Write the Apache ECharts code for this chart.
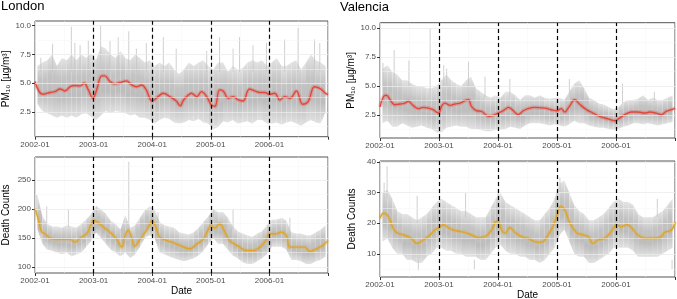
<!DOCTYPE html>
<html>
<head>
<meta charset="utf-8">
<script src="https://cdn.jsdelivr.net/npm/echarts@6/dist/echarts.min.js"></script>
<style>
  html, body { margin: 0; padding: 0; background: #fff; }
  #chart { width: 677px; height: 299px; }
</style>
</head>
<body>
<div id="chart"></div>
<script>
// month centres 2002-01 .. 2006-12 (decimal years)
var monthPos = [];
for (var m = 0; m < 60; m++) monthPos.push(2002 + (m + 0.5) / 12);

var yearLines = [2003, 2004, 2005, 2006];

// ---- London PM10 ----
var lonPmLo = [3.2,2.6,2.4,2.2,2.0,2.2,2.0,2.2,2.0,2.3,2.4,2.1, 1.8,2.2,2.6,2.4,2.6,2.5,2.4,2.2,2.3,2.0,2.0,1.8,
  1.5,1.8,2.0,1.9,1.6,1.5,1.6,1.8,1.7,1.9,1.6,1.5, 1.0,1.2,1.7,1.6,1.8,1.5,1.6,1.7,1.5,1.8,1.8,1.5,
  1.5,1.6,1.4,1.6,1.7,1.5,1.3,1.6,1.8,1.6,1.5,2.5];
var lonPmHi = [6.5,6.8,7.0,7.5,6.5,7.2,7.0,7.5,7.0,7.5,7.2,7.6, 7.0,8.2,8.0,7.5,7.2,7.8,7.2,7.0,7.5,7.2,6.8,7.0,
  6.5,6.8,6.5,6.8,6.2,5.8,6.2,6.8,6.5,6.8,7.0,6.5, 6.2,6.8,6.8,6.0,6.5,6.2,6.3,6.8,7.0,6.8,7.0,6.5,
  6.8,7.2,6.5,6.5,6.8,7.0,6.2,6.8,7.5,7.0,6.8,6.5];
var lonPmSpikes = [[2002.10,6,7.2],[2002.30,6,8.4],[2002.62,6,9.9],[2002.68,6,8.5],[2002.77,6,8.3],[2002.91,6,8.7],
  [2003.12,6,10.0],[2003.28,6,8.7],[2003.42,6,9.0],[2003.60,6,9.5],[2003.73,6,8.0],[2003.90,6,8.5],
  [2004.19,6,9.0],[2004.41,6,8.0],[2004.93,6,7.8],[2005.15,6,9.0],[2005.38,6,8.0],[2005.49,6,9.0],
  [2005.72,6,8.3],[2005.95,6,8.5],[2006.26,6,8.8],[2006.49,6,9.8],[2006.77,6,8.8],[2006.86,6,8.5]];
var lonPmTrend = [[2002.00,5.15],[2002.13,4.04],[2002.26,4.2],[2002.34,4.27],[2002.43,4.5],[2002.51,4.33],
  [2002.60,4.7],[2002.68,4.8],[2002.77,4.77],[2002.84,5.0],[2002.91,4.42],[2002.99,3.7],[2003.05,4.4],
  [2003.14,5.64],[2003.19,5.64],[2003.28,5.15],[2003.36,4.94],[2003.45,5.06],[2003.56,5.2],[2003.65,4.85],
  [2003.73,4.7],[2003.82,4.85],[2003.90,4.4],[2004.00,3.46],[2004.10,3.84],[2004.19,4.13],[2004.30,3.84],
  [2004.41,3.46],[2004.48,3.05],[2004.53,3.5],[2004.59,3.84],[2004.67,4.13],[2004.76,3.84],[2004.84,4.27],
  [2004.93,3.84],[2005.01,3.1],[2005.07,3.0],[2005.15,4.42],[2005.21,4.33],[2005.30,3.7],[2005.38,3.84],
  [2005.47,3.55],[2005.55,3.46],[2005.66,4.5],[2005.75,4.33],[2005.84,4.2],[2005.92,4.2],[2006.00,4.04],
  [2006.09,4.13],[2006.18,3.55],[2006.26,3.84],[2006.35,3.7],[2006.46,4.33],[2006.57,3.17],[2006.66,3.4],
  [2006.77,4.7],[2006.86,4.56],[2006.94,4.2],[2007.00,4.0]];

// ---- London deaths ----
var lonDeLo = [165,140,130,128,125,122,125,118,122,125,135,145, 160,150,140,130,125,118,125,115,122,135,150,155,
  150,125,122,118,115,112,110,112,115,120,128,140, 150,140,140,130,120,115,108,105,105,110,115,122,
  135,135,135,130,112,112,110,105,105,110,112,118];
var lonDeHi = [225,188,175,170,170,168,172,170,168,175,182,192, 205,200,192,180,175,165,190,168,172,185,198,205,
  200,178,172,170,168,160,158,156,160,168,178,188, 200,195,195,185,170,162,158,155,152,158,162,172,
  182,182,185,180,160,158,158,155,155,160,165,172];
var lonDeSpikes = [[2002.03,190,225],[2002.20,175,205],[2002.57,170,200],[2003.05,190,205],[2003.60,170,282],
  [2004.10,175,195],[2005.05,185,200],[2005.38,165,200],[2006.35,165,185]];
var lonDeTrend = [[2002.00,201],[2002.06,181],[2002.11,161.5],[2002.17,157.5],[2002.26,150],[2002.37,147.7],
  [2002.48,147.7],[2002.60,147.7],[2002.68,143],[2002.77,150],[2002.88,157.5],[2002.94,169],[2003.00,180.6],
  [2003.08,176.5],[2003.19,167.3],[2003.31,157.5],[2003.39,148.8],[2003.48,134.4],[2003.53,151.7],[2003.59,163.3],
  [2003.65,150],[2003.70,136],[2003.79,147.7],[2003.88,160.4],[2003.95,172],[2004.00,180.6],[2004.06,169],
  [2004.13,151.7],[2004.24,146],[2004.36,142],[2004.50,136],[2004.64,131.5],[2004.76,140],[2004.87,147.7],
  [2004.95,163.3],[2005.00,172],[2005.07,167.3],[2005.15,174.8],[2005.24,160.4],[2005.32,146],[2005.47,136],
  [2005.61,128.6],[2005.72,128.6],[2005.84,134.4],[2005.95,147.7],[2006.00,157.5],[2006.12,157.5],[2006.20,160.4],
  [2006.29,154.6],[2006.35,134.4],[2006.52,134.4],[2006.60,134.4],[2006.69,127],[2006.80,131.5],[2006.91,137.3],
  [2007.00,146]];

// ---- Valencia PM10 ----
var valPmLo = [1.8,2.0,1.5,1.5,1.8,1.6,1.4,1.5,1.6,1.4,1.3,1.0, 1.0,1.4,1.5,1.6,1.5,1.5,1.3,1.3,1.2,1.1,1.1,1.2,
  1.2,1.3,1.5,1.4,1.3,1.6,1.8,1.8,1.8,1.7,1.6,1.7, 1.6,1.5,1.7,2.0,1.8,1.8,1.6,1.5,1.4,1.4,1.3,1.2,
  1.3,1.5,1.6,1.8,1.8,1.7,1.8,1.7,1.6,1.7,1.8,1.9];
var valPmHi = [6.5,6.8,6.2,6.0,5.5,5.5,5.2,5.0,5.0,4.8,4.8,5.0, 5.5,6.0,5.5,5.2,5.0,5.5,5.8,4.8,4.5,4.2,4.0,4.2,
  4.0,4.5,4.5,4.2,3.8,4.2,4.2,4.0,4.2,4.0,3.9,4.0, 4.0,3.8,4.5,5.2,5.5,4.8,4.0,3.8,3.5,3.4,3.2,3.0,
  3.2,3.6,3.8,3.8,3.9,4.2,3.8,4.0,3.8,3.8,4.0,4.2];
var valPmSpikes = [[2002.05,5,7.0],[2002.24,5,8.1],[2002.49,5,7.2],[2002.85,4,10.0],[2003.08,5,6.8],[2003.13,5,6.5],
  [2003.50,5,7.1],[2003.78,4,5.8],[2004.20,4,5.6],[2005.21,4,5.6],[2006.11,3.5,5.2],[2006.65,3.5,4.5]];
var valPmTrend = [[2002.00,3.2],[2002.06,4.1],[2002.11,4.2],[2002.17,3.82],[2002.25,3.39],[2002.34,3.45],
  [2002.42,3.53],[2002.48,3.68],[2002.56,3.33],[2002.65,3.05],[2002.73,3.16],[2002.82,3.1],[2002.90,2.96],
  [2002.99,2.67],[2003.05,3.33],[2003.10,3.53],[2003.19,3.33],[2003.27,3.45],[2003.36,3.53],[2003.44,3.74],
  [2003.50,3.82],[2003.55,3.25],[2003.64,2.87],[2003.72,2.82],[2003.84,2.39],[2003.92,2.47],[2004.00,2.67],
  [2004.09,2.87],[2004.18,3.16],[2004.26,2.87],[2004.34,2.53],[2004.43,2.87],[2004.51,3.05],[2004.62,3.16],
  [2004.79,3.1],[2004.90,2.96],[2005.00,2.87],[2005.07,3.05],[2005.13,2.76],[2005.21,3.25],[2005.30,3.82],
  [2005.38,3.45],[2005.50,2.96],[2005.61,2.67],[2005.72,2.39],[2005.86,2.18],[2005.98,2.01],[2006.06,2.24],
  [2006.15,2.53],[2006.26,2.76],[2006.37,2.76],[2006.49,2.67],[2006.57,2.76],[2006.68,2.67],[2006.77,2.53],
  [2006.85,2.82],[2006.94,2.96],[2007.00,3.1]];

// ---- Valencia deaths ----
var valDeLo = [14,15,12,10,10,8,8,7,7,9,10,12, 12,11,11,10,10,9,9,9,8,8,10,12, 13,11,10,10,9,9,8,8,7,8,10,12,
  16,18,14,10,9,9,7,7,8,9,10,12, 12,12,12,11,9,9,9,9,9,10,11,12];
var valDeHi = [30,31,28,24,23,23,22,21,22,23,25,27, 28,27,26,25,24,24,23,22,22,22,25,28, 30,27,26,25,24,23,22,21,21,23,25,28,
  33,34,30,26,24,23,21,21,22,23,25,27, 28,27,27,26,23,22,22,22,23,24,26,28];
var valDeSpikes = [[2002.07,26,33.3],[2002.12,28,38.7],[2002.63,20,29],[2002.65,8,4.6],[2003.45,22,30],[2003.60,8,5],
  [2004.00,25,31],[2005.05,30,35],[2006.70,22,28],[2006.95,8,5]];
var valDeTrend = [[2002.00,21.6],[2002.06,23.3],[2002.11,23.0],[2002.17,21.1],[2002.23,18.1],[2002.31,16.7],
  [2002.40,16.2],[2002.48,15.6],[2002.56,14.5],[2002.62,13.4],[2002.68,13.8],[2002.76,14.9],[2002.85,16.2],
  [2002.93,17.8],[2003.02,18.9],[2003.07,19.5],[2003.16,18.6],[2003.24,17.8],[2003.36,17.3],[2003.44,17.0],
  [2003.55,16.2],[2003.67,15.3],[2003.78,15.6],[2003.89,17.8],[2003.96,20.5],[2004.00,20.8],[2004.06,17.8],
  [2004.12,16.7],[2004.20,18.6],[2004.29,17.0],[2004.40,15.6],[2004.51,15.1],[2004.56,14.5],[2004.68,13.8],
  [2004.76,14.0],[2004.85,16.2],[2004.93,18.9],[2005.00,22.7],[2005.06,25.5],[2005.13,24.4],[2005.21,20.5],
  [2005.33,17.0],[2005.44,16.2],[2005.53,15.6],[2005.61,13.4],[2005.69,14.5],[2005.81,15.1],[2005.92,17.3],
  [2006.01,19.5],[2006.09,18.9],[2006.18,19.5],[2006.26,18.6],[2006.37,16.2],[2006.49,15.1],[2006.66,15.1],
  [2006.77,15.6],[2006.82,17.0],[2006.94,17.8],[2007.00,20.5]];

var FONT = 'Liberation Sans, Arial, sans-serif';
var RED = '#e2473b', GOLD = '#dea529';

var panels = [
  { grid: { left: 35, top: 21, width: 293, height: 115.7 }, min: 0.36, max: 10.4,
    ticks: [2.5, 5, 7.5, 10], minor: [1.25, 3.75, 6.25, 8.75], dec: 1, name: 'PM₁₀ [µg/m³]', gap: 22,
    lo: lonPmLo, hi: lonPmHi, spikes: lonPmSpikes, trend: lonPmTrend, color: RED, date: false },
  { grid: { left: 35, top: 157, width: 293, height: 116 }, min: 89.6, max: 290.3,
    ticks: [100, 150, 200, 250], minor: [125, 175, 225, 275], dec: 0, name: 'Death Counts', gap: 24,
    lo: lonDeLo, hi: lonDeHi, spikes: lonDeSpikes, trend: lonDeTrend, color: GOLD, date: true },
  { grid: { left: 380, top: 22.7, width: 295, height: 115.3 }, min: 0.52, max: 10.46,
    ticks: [2.5, 5, 7.5, 10], minor: [1.25, 3.75, 6.25, 8.75], dec: 1, name: 'PM₁₀ [µg/m³]', gap: 22,
    lo: valPmLo, hi: valPmHi, spikes: valPmSpikes, trend: valPmTrend, color: RED, date: false },
  { grid: { left: 380, top: 161, width: 295, height: 116 }, min: 2.4, max: 40.4,
    ticks: [10, 20, 30, 40], minor: [5, 15, 25, 35], dec: 0, name: 'Death Counts', gap: 23,
    lo: valDeLo, hi: valDeHi, spikes: valDeSpikes, trend: valDeTrend, color: GOLD, date: true }
];

var grids = [], xAxes = [], yAxes = [], series = [];

panels.forEach(function (p, i) {
  grids.push(Object.assign({ show: true, borderColor: '#555', borderWidth: 1, backgroundColor: 'transparent',
    containLabel: false, outerBoundsMode: 'none' }, p.grid));

  var xa = {
    gridIndex: i, type: 'value', min: 2002, max: 2007, interval: 1,
    axisLine: { show: false, onZero: false },
    axisTick: { show: true, length: 3, lineStyle: { color: '#333' } },
    axisLabel: {
      fontSize: 8, color: '#4d4d4d', margin: 4, fontFamily: FONT,
      formatter: function (v) { return (Math.abs(v - Math.round(v)) < 1e-6 && v < 2007) ? Math.round(v) + '-01' : ''; }
    },
    splitLine: { show: true, lineStyle: { color: '#ebebeb', width: 0.8 } },
    minorTick: { show: false, splitNumber: 2 },
    minorSplitLine: { show: true, lineStyle: { color: '#f4f4f4', width: 0.5 } }
  };
  if (p.date) {
    xa.name = 'Date'; xa.nameLocation = 'middle'; xa.nameGap = 13;
    xa.nameTextStyle = { fontSize: 10, color: '#000', fontFamily: FONT };
  }
  xAxes.push(xa);

  yAxes.push({
    gridIndex: i, type: 'value', min: p.min, max: p.max,
    axisLine: { show: false, onZero: false },
    axisTick: { show: true, length: 3, customValues: p.ticks, lineStyle: { color: '#333' } },
    axisLabel: {
      customValues: p.ticks, fontSize: 8, color: '#4d4d4d', margin: 4, fontFamily: FONT,
      formatter: function (v) { return v.toFixed(p.dec); }
    },
    splitLine: { show: false },
    name: p.name, nameLocation: 'middle', nameGap: p.gap,
    nameTextStyle: { fontSize: 10, color: '#000', fontFamily: FONT }
  });

  // background grid lines for y
  var gl = p.ticks.map(function (v) { return { yAxis: v, lineStyle: { color: '#ebebeb', width: 0.8, type: 'solid' } }; })
    .concat(p.minor.map(function (v) { return { yAxis: v, lineStyle: { color: '#f4f4f4', width: 0.5, type: 'solid' } }; }));
  series.push({
    type: 'line', xAxisIndex: i, yAxisIndex: i, data: [[2002, p.min]], showSymbol: false,
    lineStyle: { width: 0 }, silent: true, z: 1,
    markLine: { silent: true, symbol: ['none', 'none'], label: { show: false }, animation: false, data: gl }
  });

  // grey daily spread: polygon between neighbouring months, darker where the points crowd
  (function (lo, hi) {
    series.push({
      type: 'custom', xAxisIndex: i, yAxisIndex: i, silent: true, z: 2,
      encode: { x: 0, y: [1, 2] },
      renderItem: function (params, api) {
        var k = params.dataIndex;
        if (k >= monthPos.length - 1) return null;
        var pts = [
          api.coord([monthPos[k], lo[k]]), api.coord([monthPos[k + 1], lo[k + 1]]),
          api.coord([monthPos[k + 1], hi[k + 1]]), api.coord([monthPos[k], hi[k]])
        ];
        var fill = new echarts.graphic.LinearGradient(0, 0, 0, 1, [
          { offset: 0, color: '#e4e4e4' }, { offset: 0.35, color: '#c3c3c3' },
          { offset: 0.65, color: '#bdbdbd' }, { offset: 1, color: '#e2e2e2' }
        ]);
        return { type: 'polygon', shape: { points: pts }, style: { fill: fill } };
      },
      data: monthPos.map(function (x, k) { return [x, lo[k], hi[k]]; })
    });
  })(p.lo, p.hi);

  // isolated spikes
  series.push({
    type: 'custom', xAxisIndex: i, yAxisIndex: i, silent: true, z: 2,
    encode: { x: 0, y: [1, 2] },
    renderItem: function (params, api) {
      var a = api.coord([api.value(0), api.value(1)]);
      var b = api.coord([api.value(0), api.value(2)]);
      return { type: 'line', shape: { x1: a[0], y1: a[1], x2: b[0], y2: b[1] },
        style: { stroke: '#c4c4c4', lineWidth: 0.8 } };
    },
    data: p.spikes
  });

  // smooth trend with soft halo
  series.push({
    type: 'line', xAxisIndex: i, yAxisIndex: i, smooth: 0.4, symbol: 'none', silent: true, z: 3,
    lineStyle: { color: p.color, width: 4, opacity: 0.25 }, data: p.trend
  });
  series.push({
    type: 'line', xAxisIndex: i, yAxisIndex: i, smooth: 0.4, symbol: 'none', silent: true, z: 4,
    lineStyle: { color: p.color, width: 1.4 }, data: p.trend
  });

  // year boundaries
  series.push({
    type: 'line', xAxisIndex: i, yAxisIndex: i, data: [[2002, p.min]], showSymbol: false,
    lineStyle: { width: 0 }, silent: true, z: 5,
    markLine: { silent: true, symbol: ['none', 'none'], label: { show: false }, animation: false,
      lineStyle: { color: '#000', type: [4, 3], width: 1.2 },
      data: yearLines.map(function (y) { return { xAxis: y }; }) }
  });
});

var chart = echarts.init(document.getElementById('chart'));
chart.setOption({
  animation: false,
  backgroundColor: '#fff',
  grid: grids,
  xAxis: xAxes,
  yAxis: yAxes,
  series: series,
  graphic: [
    { type: 'text', left: 1, top: 0, style: { text: 'London', fontSize: 13, fill: '#000', fontFamily: FONT } },
    { type: 'text', left: 340, top: 1, style: { text: 'Valencia', fontSize: 13, fill: '#000', fontFamily: FONT } }
  ]
});
</script>
</body>
</html>
